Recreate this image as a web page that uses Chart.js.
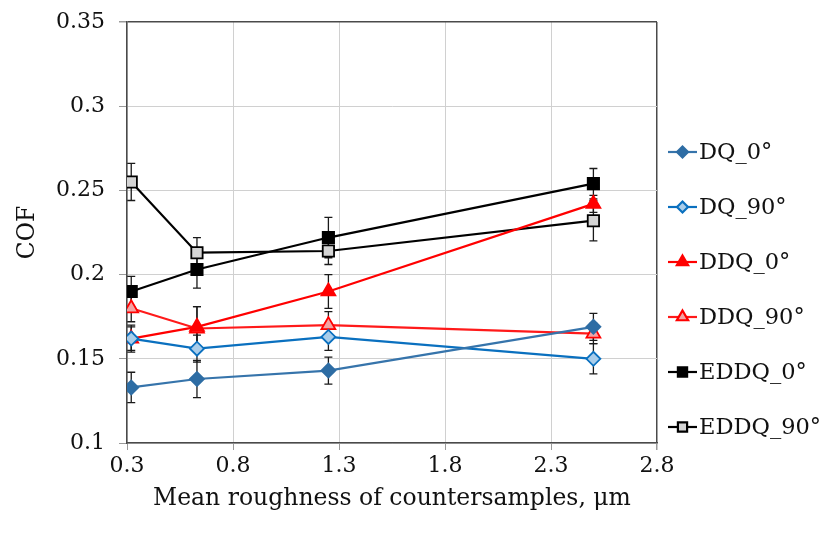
<!DOCTYPE html>
<html>
<head>
<meta charset="utf-8">
<script src="https://cdn.jsdelivr.net/npm/chart.js@4"></script>
<style>
  html, body { margin: 0; padding: 0; background: #fff; }
  #wrap { width: 825px; height: 543px; }
</style>
</head>
<body>
<div id="wrap"><canvas id="cofChart" width="825" height="543"></canvas></div>
<script>
// data
const roughness = [0.32, 0.63, 1.25, 2.5];
const xTicks = [0.3, 0.8, 1.3, 1.8, 2.3, 2.8];
const yTicks = [0.1, 0.15, 0.2, 0.25, 0.3, 0.35];
const seriesNames = ["DQ_0°", "DQ_90°", "DDQ_0°", "DDQ_90°", "EDDQ_0°", "EDDQ_90°"];

const dq0 = [0.133, 0.138, 0.143, 0.169];
const dq0Err = [0.009, 0.011, 0.008, 0.008];
const dq90 = [0.162, 0.156, 0.163, 0.150];
const dq90Err = [0.007, 0.008, 0.008, 0.009];
const ddq0 = [0.162, 0.169, 0.190, 0.242];
const ddq0Err = [0.008, 0.012, 0.010, 0.005];
const ddq90 = [0.180, 0.168, 0.170, 0.165];
const ddq90Err = [0.008, 0.013, 0.008, 0.006];
const eddq0 = [0.190, 0.203, 0.222, 0.254];
const eddq0Err = [0.009, 0.011, 0.012, 0.009];
const eddq90 = [0.255, 0.213, 0.214, 0.232];
const eddq90Err = [0.011, 0.009, 0.008, 0.012];

const serif = "'DejaVu Serif', 'Liberation Serif', serif";

function pts(vals) {
    return vals.map((v, i) => ({ x: roughness[i], y: v }));
}

function series(i, vals, errs, line, style, fill, border, radius) {
    return {
        label: seriesNames[i],
        data: pts(vals),
        errors: errs,
        borderColor: line,
        borderWidth: 2.2,
        pointStyle: style,
        pointRadius: radius,
        pointBackgroundColor: fill,
        pointBorderColor: border,
        pointBorderWidth: 1.8,
        tension: 0
    };
}

const datasets = [
    series(0, dq0, dq0Err, "#3674ab", "rectRot", "#2e6da4", "#2e6da4", 7),
    series(1, dq90, dq90Err, "#0a70bf", "rectRot", "#a9cdea", "#0a70bf", 7),
    series(2, ddq0, ddq0Err, "#ff0000", "triangle", "#ff0000", "#ff0000", 8),
    series(3, ddq90, ddq90Err, "#ff1a1a", "triangle", "#f3a3a3", "#ff0000", 8),
    series(4, eddq0, eddq0Err, "#000000", "rect", "#000000", "#000000", 8),
    series(5, eddq90, eddq90Err, "#000000", "rect", "#d4d4d4", "#000000", 8)
];

// vertical error bars with caps, under the lines
const errorBars = {
    id: "errorBars",
    beforeDatasetsDraw(chart) {
        const ctx = chart.ctx;
        const xs = chart.scales.x, ys = chart.scales.y;
        ctx.save();
        ctx.strokeStyle = "#1a1a1a";
        ctx.lineWidth = 1.3;
        chart.data.datasets.forEach(ds => {
            ds.data.forEach((p, i) => {
                const e = ds.errors[i];
                const px = xs.getPixelForValue(p.x);
                const top = ys.getPixelForValue(p.y + e);
                const bot = ys.getPixelForValue(p.y - e);
                ctx.beginPath();
                ctx.moveTo(px, top); ctx.lineTo(px, bot);
                ctx.moveTo(px - 4, top); ctx.lineTo(px + 4, top);
                ctx.moveTo(px - 4, bot); ctx.lineTo(px + 4, bot);
                ctx.stroke();
            });
        });
        ctx.restore();
    }
};

// legend on the right: short line with the marker, then the name
const sideLegend = {
    id: "sideLegend",
    afterDraw(chart) {
        const ctx = chart.ctx;
        const x0 = 668, y0 = 152, gap = 55;
        ctx.save();
        chart.data.datasets.forEach((ds, i) => {
            const y = y0 + i * gap;
            ctx.strokeStyle = ds.borderColor;
            ctx.lineWidth = 2.2;
            ctx.beginPath();
            ctx.moveTo(x0, y); ctx.lineTo(x0 + 29, y);
            ctx.stroke();
            ctx.fillStyle = ds.pointBackgroundColor;
            ctx.strokeStyle = ds.pointBorderColor;
            Chart.helpers.drawPoint(ctx, {
                pointStyle: ds.pointStyle,
                radius: ds.pointRadius - 1.5,
                rotation: 0,
                borderWidth: 1.5
            }, x0 + 14.5, y);
            ctx.fillStyle = "#111";
            ctx.font = "22.5px " + serif;
            ctx.textBaseline = "middle";
            ctx.fillText(ds.label, x0 + 31, y + 1);
        });
        ctx.restore();
    }
};

const gridColor = "#d0d0d0";
const boxColor = "#4a4a4a";

new Chart(document.getElementById("cofChart").getContext("2d"), {
    type: "line",
    data: { datasets: datasets },
    options: {
        responsive: false,
        animation: false,
        layout: { padding: { top: 22, right: 168, left: 0, bottom: 0 } },
        plugins: {
            legend: { display: false },
            tooltip: { enabled: false }
        },
        scales: {
            x: {
                type: "linear",
                min: 0.3,
                max: 2.8,
                afterBuildTicks: s => { s.ticks = xTicks.map(v => ({ value: v })); },
                afterFit: s => { s.height = 100; },
                grid: {
                    color: c => (c.tick && c.tick.value === 2.8 ? boxColor : gridColor),
                    lineWidth: c => (c.tick && c.tick.value === 2.8 ? 1.5 : 1),
                    tickLength: 7,
                    tickColor: "#9a9a9a"
                },
                border: { color: boxColor, width: 1.5 },
                ticks: {
                    color: "#111",
                    padding: 3,
                    font: { family: serif, size: 22 },
                    callback: v => v.toFixed(1),
                    maxRotation: 0
                },
                title: {
                    display: true,
                    text: "Mean roughness of countersamples, μm",
                    color: "#111",
                    font: { family: serif, size: 23.5 },
                    padding: { top: 0, bottom: 30 }
                }
            },
            y: {
                min: 0.1,
                max: 0.35,
                afterBuildTicks: s => { s.ticks = yTicks.map(v => ({ value: v })); },
                afterFit: s => { s.width = 127; s.paddingTop = 0; },
                grid: {
                    color: c => (c.tick && c.tick.value === 0.35 ? boxColor : gridColor),
                    lineWidth: c => (c.tick && c.tick.value === 0.35 ? 1.5 : 1),
                    tickLength: 8,
                    tickColor: "#9a9a9a"
                },
                border: { color: boxColor, width: 1.5 },
                ticks: {
                    color: "#111",
                    padding: 14,
                    font: { family: serif, size: 22 },
                    callback: v => String(+v.toFixed(2))
                },
                title: {
                    display: true,
                    text: "COF",
                    color: "#111",
                    font: { family: serif, size: 23.5 },
                    padding: { top: 14, bottom: 0 }
                }
            }
        }
    },
    plugins: [errorBars, sideLegend]
});
</script>
</body>
</html>
